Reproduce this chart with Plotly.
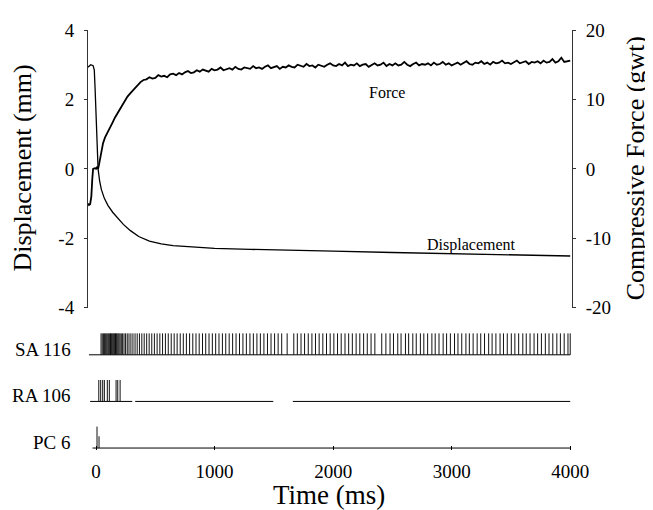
import plotly.graph_objects as go

# stimulus displacement (mm) vs time (ms)
disp_t = [-68, -55, -45, -25, -15, -8, 0, 8, 17, 30, 45, 70, 100, 140, 180, 230, 290, 360,
          450, 550, 650, 800, 1000, 1300, 1600, 2000, 2500, 3000, 3500, 4000]
disp_mm = [2.93, 2.99, 3.0, 2.97, 2.85, 2.3, 1.4, 0.6, 0.0, -0.35, -0.6, -0.85, -1.05, -1.25,
           -1.42, -1.6, -1.78, -1.95, -2.08, -2.16, -2.21, -2.25, -2.29, -2.32, -2.35, -2.37,
           -2.41, -2.45, -2.48, -2.51]

# compressive force (gwt): onset part, then the plateau sampled every 25 ms
force_t_onset = [-68, -60, -50, -40, -32, -25, -10, 0, 10, 17, 25, 34, 45, 59, 75, 90, 105,
                 120, 140, 160, 180, 200, 220, 240, 265, 290, 320, 350, 375, 400]
force_onset = [-5.0, -5.2, -5.1, -4.0, -1.5, 0.0, 0.1, 0.0, 0.3, 0.0, 0.6, 1.4, 2.6, 3.7,
               4.5, 5.0, 5.5, 5.8, 6.7, 7.4, 8.0, 8.6, 9.2, 9.8, 10.4, 10.9, 11.5, 12.0,
               12.5, 12.8]
force_plateau = [
    12.9, 13.2, 13.0, 13.1, 13.5, 13.3, 13.4, 13.2, 13.6, 13.7, 13.5, 13.8,
    13.6, 13.9, 14.1, 13.8, 13.9, 14.2, 14.0, 14.3, 14.1, 14.0, 14.4, 14.2,
    14.3, 14.6, 14.2, 14.4, 14.5, 14.3, 14.7, 14.4, 14.3, 14.6, 14.5, 14.4,
    14.8, 14.5, 14.6, 14.4, 14.7, 14.9, 14.5, 14.6, 14.8, 14.4, 14.7, 14.6,
    14.9, 14.7, 14.6, 15.0, 14.8, 14.7, 15.1, 14.8, 14.9, 14.6, 15.0, 14.9,
    14.7, 15.0, 15.2, 14.9, 14.8, 15.1, 14.9, 15.3, 14.8, 15.0, 14.9, 15.2,
    14.8, 15.0, 15.1, 14.7, 15.0, 15.2, 14.9, 15.0, 15.3, 14.8, 15.1, 14.9,
    15.2, 14.9, 15.0, 15.4, 15.0, 14.8, 15.1, 15.3, 14.9, 15.1, 15.0, 15.2,
    14.9, 15.3, 15.0, 15.1, 15.4, 15.0, 15.2, 14.9, 15.1, 15.3, 15.0, 15.2,
    15.5, 15.1, 15.0, 15.3, 15.2, 15.5, 15.1, 15.3, 15.0, 15.4, 15.2, 15.3,
    15.6, 15.2, 15.3, 15.1, 15.4, 15.6, 15.2, 15.3, 15.5, 15.1, 15.4, 15.3,
    15.5, 15.2, 15.6, 15.3, 15.4, 15.8, 15.3, 15.5, 16.0, 15.4, 15.5, 15.6,
]
force_t = force_t_onset + list(range(425, 4001, 25))
force_gwt = force_onset + force_plateau

# spike times (ms)
sa_spikes = [42, 52, 62, 72, 81, 90, 99, 107, 115, 122, 129, 136, 143, 150, 157, 164, 171,
             178, 186, 194, 203, 213, 224, 236, 249, 263, 278, 294, 311, 329, 347, 366, 386,
             406, 427, 448, 470, 492, 515, 538, 561, 585, 609, 634, 659, 684, 710, 736, 762,
             789, 816, 843, 870, 898, 925, 953, 981, 1009, 1037, 1066, 1094, 1123, 1152,
             1181, 1210, 1239, 1268, 1298, 1327, 1357, 1386, 1416, 1446, 1476, 1506, 1536,
             1566, 1612, 1668, 1698, 1729, 1759, 1790, 1821, 1851, 1882, 1913, 1944, 1975,
             2006, 2037, 2068, 2100, 2131, 2162, 2194, 2225, 2257, 2288, 2320, 2352, 2410,
             2445, 2480, 2509, 2545, 2573, 2610, 2637, 2672, 2701, 2736, 2765, 2797, 2833,
             2861, 2893, 2928, 2957, 2989, 3024, 3053, 3085, 3120, 3149, 3181, 3215, 3245,
             3277, 3312, 3341, 3373, 3408, 3437, 3469, 3503, 3533, 3565, 3600, 3629, 3661,
             3695, 3725, 3757, 3790, 3821, 3853, 3887, 3917, 3949, 3981, 4000]
ra_spikes = [23, 39, 56, 70, 95, 112, 169, 183, 203]
pc_spikes = [8, 25]
pc_amp = [1.0, 0.55]

# recorded stretches of each raster row (ms)
sa_trace = [(-60, 4000)]
ra_trace = [(-50, 305), (330, 1495), (1660, 4000)]
pc_trace = [(-30, 4000)]

rows = {"SA 116": 2, "RA 106": 1, "PC 6": 0}
spike_h = 0.46


def raster(times, base, amps=None):
    xs, ys = [], []
    for i, t in enumerate(times):
        a = amps[i] if amps else 1.0
        xs += [t, t, None]
        ys += [base, base + spike_h * a, None]
    return xs, ys


def baseline(segs, base):
    xs, ys = [], []
    for a, b in segs:
        xs += [a, b, None]
        ys += [base, base, None]
    return xs, ys


fig = go.Figure()

fig.add_trace(go.Scatter(x=disp_t, y=disp_mm, mode="lines",
                         line=dict(color="black", width=1.3), yaxis="y"))
fig.add_trace(go.Scatter(x=force_t, y=force_gwt, mode="lines",
                         line=dict(color="black", width=1.8), yaxis="y2"))

for spikes, segs, row, amps in [(sa_spikes, sa_trace, rows["SA 116"], None),
                                (ra_spikes, ra_trace, rows["RA 106"], None),
                                (pc_spikes, pc_trace, rows["PC 6"], pc_amp)]:
    bx, by = baseline(segs, row)
    fig.add_trace(go.Scatter(x=bx, y=by, mode="lines",
                             line=dict(color="black", width=1), yaxis="y3"))
    sx, sy = raster(spikes, row, amps)
    fig.add_trace(go.Scatter(x=sx, y=sy, mode="lines",
                             line=dict(color="#111", width=1), yaxis="y3"))

serif = "Liberation Serif, Times New Roman, serif"

# page body adds 8px, so the figure is 8px smaller and margins shifted
fig.update_layout(
    width=645, height=502,
    margin=dict(l=80, r=81, t=14, b=60),
    plot_bgcolor="white", paper_bgcolor="white",
    showlegend=False,
    font=dict(family=serif, color="black", size=19),
    xaxis=dict(range=[-68, 4015], anchor="y3", showgrid=False, zeroline=False,
               showline=False, tickvals=[0, 1000, 2000, 3000, 4000],
               ticks="inside", ticklen=4, tickcolor="black", ticklabelstandoff=8),
    yaxis=dict(domain=[0.3388, 1], range=[-4, 4], showgrid=False, zeroline=False,
               showline=True, linecolor="#333", linewidth=1,
               tickvals=[4, 2, 0, -2, -4], ticktext=["4", "2", "0", "-2", "-4"],
               ticks="outside", ticklen=3, tickcolor="#333", ticklabelstandoff=6),
    yaxis2=dict(overlaying="y", side="right", range=[-20, 20], showgrid=False,
                zeroline=False, showline=True, linecolor="#333", linewidth=1,
                tickvals=[20, 10, 0, -10, -20], ticktext=["20", "10", "0", "-10", "-20"],
                ticks="outside", ticklen=3, tickcolor="#333", ticklabelstandoff=6),
    yaxis3=dict(domain=[0, 0.3], range=[-0.042, 2.661], visible=False),
)

ann = [
    dict(text="Displacement (mm)", x=-0.136, y=0.6706, xref="paper", yref="paper",
         xanchor="center", yanchor="middle", textangle=-90, font=dict(size=26),
         showarrow=False),
    dict(text="Compressive Force (gwt)", x=1.13, y=0.6706, xref="paper", yref="paper",
         xanchor="center", yanchor="middle", textangle=-90, font=dict(size=26),
         showarrow=False),
    dict(text="Time (ms)", x=0.498, y=-0.106, xref="paper", yref="paper",
         xanchor="center", yanchor="middle", font=dict(size=27), showarrow=False),
    dict(text="Force", x=2456, y=2.2, xref="x", yref="y", font=dict(size=16),
         showarrow=False),
    dict(text="Displacement", x=3165, y=-2.2, xref="x", yref="y", font=dict(size=16),
         showarrow=False),
]
for name, row in rows.items():
    ann.append(dict(text=name, x=-0.031, y=row + 0.12, xref="paper", yref="y3",
                    xanchor="right", yanchor="middle", font=dict(size=19),
                    showarrow=False))
fig.update_layout(annotations=ann)

fig.write_html("out.html")
